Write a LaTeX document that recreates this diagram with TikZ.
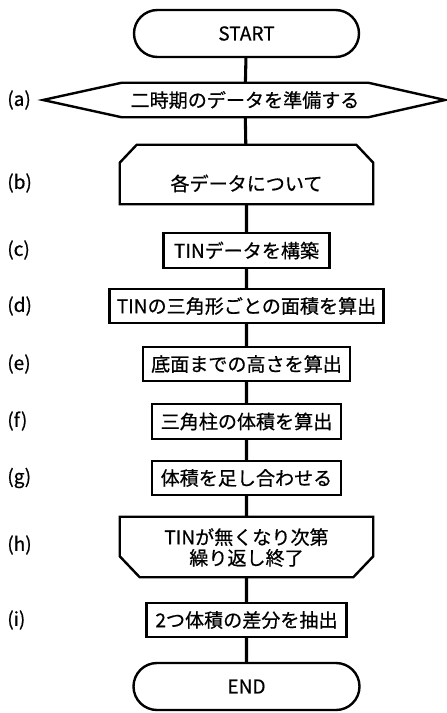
\documentclass[tikz,border=0pt]{standalone}
\usepackage{fontspec}
\setmainfont{Noto Sans CJK JP}[FakeBold=0.6]
\usetikzlibrary{shapes.misc,backgrounds}
\pgfdeclarelayer{connlayer}
\pgfsetlayers{connlayer,background,main}
\begin{document}
\begin{tikzpicture}[x=0.75pt,y=-0.75pt,
  every node/.style={font=\fontsize{14.3}{17}\selectfont, inner sep=0pt},
  box/.style={draw, line width=1.8pt, fill=white, rectangle, minimum height=25.5pt},
  shapebody/.style={rectangle, inner sep=0pt},
  outline/.style={draw, line width=1.8pt, fill=white, line join=miter},
  term/.style={draw, line width=1.8pt, fill=white, rounded rectangle, minimum width=168.75pt, minimum height=35.25pt},
  conn/.style={line width=2.3pt},
  tag/.style={anchor=west}]
\useasboundingbox (0,0) rectangle (446,713);

% nodes
\node[term] (start) at (246.5,33.5) {START};
\node[shapebody, minimum width=184.5pt, minimum height=25.5pt] (a) at (245,100) {二時期のデータを準備する};
\coordinate (atipL) at (43,100);
\coordinate (atipR) at (445,100);
\node[shapebody, minimum width=189.75pt, minimum height=30.75pt] (b) at (246.5,183.5) {各データについて};
\node[box, minimum width=124.5pt, minimum height=26.25pt] (c) at (246.5,250.5) {TINデータを構築};
\node[box, minimum width=205.5pt] (d) at (246.5,306) {TINの三角形ごとの面積を算出};
\node[box, minimum width=155.25pt] (e) at (246.5,364) {底面までの高さを算出};
\node[box, minimum width=141.75pt, minimum height=26.25pt] (f) at (246.5,421.5) {三角柱の体積を算出};
\node[box, minimum width=141.75pt] (g) at (246.5,478) {体積を足し合わせる};
\node[shapebody, minimum width=189.75pt, minimum height=44.25pt, align=center,
      font=\fontsize{14.3}{15.5}\selectfont] (h) at (246.5,547.5) {TINが無くなり次第\\繰り返し終了};
\node[box, minimum width=150pt] (i) at (246.5,620) {2つ体積の差分を抽出};
\node[term, minimum width=169.5pt] (end) at (246.5,686.5) {END};

% custom outlines
\begin{pgfonlayer}{background}
  \draw[outline] (atipL) -- (a.north west) -- (a.north east) -- (atipR)
        -- (a.south east) -- (a.south west) -- cycle;
  \draw[outline] (b.south west) -- (b.north west) -- ([xshift=12.75pt,yshift=13.5pt]b.north west)
        -- ([xshift=-12.75pt,yshift=13.5pt]b.north east) -- (b.north east) -- (b.south east) -- cycle;
  \draw[outline] ([yshift=0.75pt]h.north west) -- ([yshift=0.75pt]h.north east) -- ([yshift=15.75pt]h.south east)
        -- ([xshift=-15pt]h.south east) -- ([xshift=15pt]h.south west)
        -- ([yshift=15.75pt]h.south west) -- cycle;
\end{pgfonlayer}

% connectors
\begin{pgfonlayer}{connlayer}
  \draw[conn] (start) -- (a) -- (b) -- (c) -- (d) -- (e) -- (f) -- (g) -- (h) -- (i) -- (end);
\end{pgfonlayer}

% step labels
\node[tag] (la) at (7,100) {(a)};
\node[tag] (lb) at (7,183) {(b)};
\node[tag] (lc) at (7,250) {(c)};
\node[tag] (ld) at (7,306) {(d)};
\node[tag] (le) at (7,364) {(e)};
\node[tag] (lf) at (7,421) {(f)};
\node[tag] (lg) at (7,478) {(g)};
\node[tag] (lh) at (7,545) {(h)};
\node[tag] (li) at (7,620) {(i)};
\end{tikzpicture}
\end{document}
